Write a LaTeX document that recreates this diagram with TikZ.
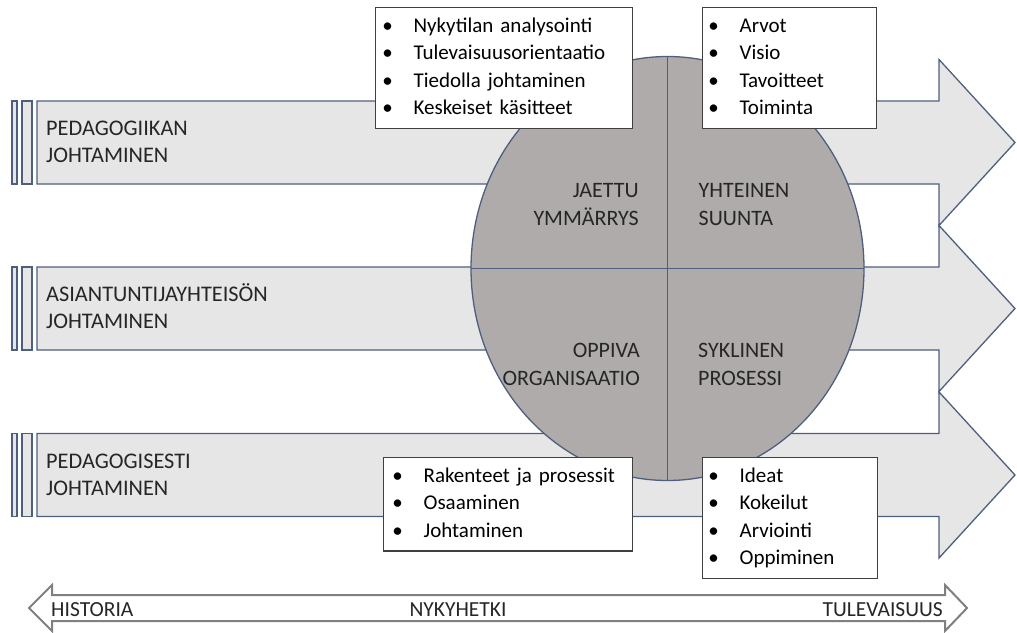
\documentclass[tikz,border=0pt]{standalone}
\usepackage{fontspec}
\setmainfont{Carlito}
\usetikzlibrary{shapes.geometric}

\definecolor{bandfill}{HTML}{E7E6E6}
\definecolor{bandline}{HTML}{4E5F7E}
\definecolor{discfill}{HTML}{AFABAB}
\definecolor{inktext}{HTML}{262626}
\definecolor{boxline}{HTML}{3F3F3F}
\definecolor{axisline}{HTML}{808080}

% one bulleted line: bullet centred on the line start, text after a fixed gap
\newcommand\itm[1]{\strut\makebox[0pt][c]{\textbullet}\hspace{26pt}\mbox{#1}}

\begin{document}
\begin{tikzpicture}[x=1pt,y=-1pt,
  band/.style={fill=bandfill, draw=bandline, line width=1.3pt, line join=miter},
  lbl/.style={font=\fontsize{22.3}{27}\selectfont, text=inktext, inner sep=0pt, align=left, anchor=west},
  quad/.style={font=\fontsize{22}{28}\selectfont, text=inktext, inner sep=0pt},
  disc/.style={ellipse, draw=bandline, fill=discfill, line width=1.3pt,
    minimum width=393pt, minimum height=424pt, inner sep=0pt, outer sep=0pt},
  divider/.style={draw=bandline, line width=1.3pt},
  listbox/.style={draw=boxline, fill=white, line width=1.2pt,
    font=\fontsize{21}{27.4}\selectfont, text=black, align=left,
    anchor=north west, inner ysep=5.6pt},
  axis/.style={draw=axisline, fill=white, line width=2pt, line join=miter},
  axlbl/.style={font=\fontsize{21.5}{26}\selectfont, text=inktext, inner sep=0pt}
]
\useasboundingbox (0,0) rectangle (1017,632);

% three leadership bands, each a block arrow with two slats at its tail
\foreach \cy in {142.5,308.5,475} {
  \draw[band] (12,\cy-41.5) rectangle (17,\cy+41.5);
  \draw[band] (22,\cy-41.5) rectangle (32,\cy+41.5);
  \draw[band] (37,\cy-41.5) -- (939,\cy-41.5) -- (939,\cy-83) -- (1015,\cy)
    -- (939,\cy+83) -- (939,\cy+41.5) -- (37,\cy+41.5) -- cycle;
}

\node[lbl] (lead1) at (46,144) {\strut PEDAGOGIIKAN\\JOHTAMINEN\strut};
\node[lbl] (lead2) at (46,310) {\strut ASIANTUNTIJAYHTEISÖN\\JOHTAMINEN\strut};
\node[lbl] (lead3) at (46,476.5) {\strut PEDAGOGISESTI\\JOHTAMINEN\strut};

% central disc split into four quarters
\node[disc] (disc) at (667.5,268.5) {};
\draw[divider] (disc.north) -- (disc.south);
\draw[divider] (disc.west) -- (disc.east);

\node[quad, align=right, anchor=east] (q1) at (639,205.5) {\strut JAETTU\\YMMÄRRYS\strut};
\node[quad, align=left, anchor=west] (q2) at (698.5,205.5) {\strut YHTEINEN\\SUUNTA\strut};
\node[quad, align=right, anchor=east] (q3) at (640,365.5) {\strut OPPIVA\\ORGANISAATIO\strut};
\node[quad, align=left, anchor=west] (q4) at (698,365.5) {\strut SYKLINEN\\PROSESSI\strut};

% bulleted lists
\node[listbox, inner xsep=12pt, text width=233pt] (list1) at (375,7)
  {\itm{Nykytilan analysointi}\\\itm{Tulevaisuusorientaatio}\\\itm{Tiedolla johtaminen}\\\itm{Keskeiset käsitteet}};
\node[listbox, inner xsep=11pt, text width=152pt] (list2) at (702,7)
  {\itm{Arvot}\\\itm{Visio}\\\itm{Tavoitteet}\\\itm{Toiminta}};
\node[listbox, inner xsep=14pt, text width=221pt] (list3) at (383,457)
  {\itm{Rakenteet ja prosessit}\\\itm{Osaaminen}\\\itm{Johtaminen}};
\node[listbox, inner xsep=11pt, text width=153pt] (list4) at (702,457)
  {\itm{Ideat}\\\itm{Kokeilut}\\\itm{Arviointi}\\\itm{Oppiminen}};

% time axis
\draw[axis] (29,608) -- (52,585) -- (52,595) -- (945,595) -- (945,585) -- (967,608)
  -- (945,631) -- (945,621) -- (52,621) -- (52,631) -- cycle;
\node[axlbl, anchor=west] (past) at (51,609.5) {HISTORIA};
\node[axlbl] (now) at (458,609.5) {NYKYHETKI};
\node[axlbl, anchor=east] (future) at (943,609.5) {TULEVAISUUS};
\end{tikzpicture}
\end{document}
